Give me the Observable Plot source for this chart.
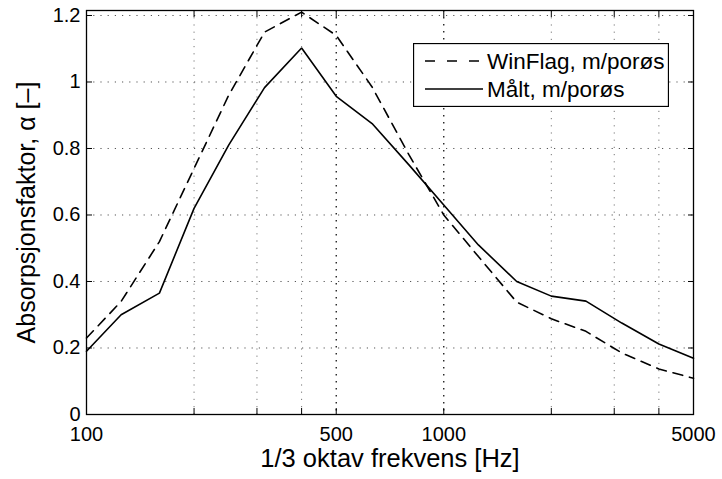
<!DOCTYPE html>
<html>
<head>
<meta charset="utf-8">
<script src="https://cdn.jsdelivr.net/npm/d3@7"></script>
<script src="https://cdn.jsdelivr.net/npm/@observablehq/plot@0.6"></script>
<style>
  html, body { margin: 0; padding: 0; background: #fff; }
  #wrap { position: relative; width: 722px; height: 479px; font-family: "Liberation Sans", Arial, Helvetica, sans-serif; }
  #legend { position: absolute; left: 413px; top: 43px; }
</style>
</head>
<body>
<div id="wrap"><div id="chart"></div><div id="legend"></div></div>
<script>
// ---- data ----
const freqs = [100, 125, 160, 200, 250, 315, 400, 500, 630, 800, 1000, 1250, 1600, 2000, 2500, 3150, 4000, 5000];
const winflag = [0.23, 0.34, 0.52, 0.74, 0.96, 1.15, 1.21, 1.14, 0.985, 0.78, 0.60, 0.475, 0.338, 0.288, 0.25, 0.185, 0.137, 0.109];
const maalt   = [0.19, 0.30, 0.365, 0.62, 0.81, 0.983, 1.102, 0.957, 0.875, 0.75, 0.63, 0.51, 0.40, 0.356, 0.341, 0.275, 0.212, 0.169];
const seriesNames = ["WinFlag, m/porøs", "Målt, m/porøs"];
const xTicks = [100, 200, 300, 400, 500, 1000, 2000, 3000, 4000, 5000];
const xTickLabels = [100, 500, 1000, 5000];
const yTicks = [0, 0.2, 0.4, 0.6, 0.8, 1, 1.2];
const xTitle = "1/3 oktav frekvens [Hz]";
const yTitle = "Absorpsjonsfaktor, α [–]";

const rows = [];
freqs.forEach((f, i) => {
  rows.push({f, v: winflag[i], s: seriesNames[0]});
  rows.push({f, v: maalt[i], s: seriesNames[1]});
});
const dashes = {[seriesNames[0]]: "10,7", [seriesNames[1]]: null};

const font = "Liberation Sans, Arial, Helvetica, sans-serif";
const inner = xTicks.filter(d => d > 100 && d < 5000);
const major = [500, 1000];
const minor = inner.filter(d => !major.includes(d));

const chart = Plot.plot({
  width: 722,
  height: 479,
  marginLeft: 86,
  marginRight: 29,
  marginTop: 10,
  marginBottom: 65,
  style: {fontFamily: font, color: "#000", background: "#fff"},
  x: {type: "log", domain: [100, 5000], axis: null},
  y: {domain: [0, 1.215], axis: null},
  marks: [
    Plot.ruleY(yTicks.filter(d => d > 0), {stroke: "#555", strokeWidth: 1, strokeDasharray: "1.2,6"}),
    Plot.ruleX(minor, {stroke: "#777", strokeWidth: 1, strokeDasharray: "1.2,6"}),
    Plot.ruleX(major, {stroke: "#000", strokeWidth: 1.2, strokeDasharray: "1.5,5.5"}),
    ...seriesNames.map(name => Plot.line(rows.filter(r => r.s === name), {
      x: "f", y: "v", stroke: "#000", strokeWidth: 1.6,
      strokeDasharray: dashes[name], strokeLinejoin: "miter"
    })),
    Plot.frame({stroke: "#000", strokeWidth: 1.3}),
    // inward ticks
    Plot.axisX({ticks: xTicks, anchor: "bottom", tickSize: 6, dy: -6, tickFormat: () => "", strokeWidth: 1, label: null}),
    Plot.axisX({ticks: xTicks, anchor: "top", tickSize: 6, dy: 6, tickFormat: () => "", strokeWidth: 1, label: null}),
    Plot.axisY({ticks: yTicks, anchor: "left", tickSize: 6, dx: 6, tickFormat: () => "", strokeWidth: 1, label: null}),
    Plot.axisY({ticks: yTicks, anchor: "right", tickSize: 6, dx: -6, tickFormat: () => "", strokeWidth: 1, label: null}),
    // labels
    Plot.axisX({ticks: xTickLabels, anchor: "bottom", tickSize: 0, tickPadding: 12, fontSize: 20, tickFormat: d => String(d), label: null}),
    Plot.axisY({ticks: yTicks, anchor: "left", tickSize: 0, tickPadding: 6, fontSize: 20, tickFormat: d => String(d), label: null}),
    Plot.text([xTitle], {frameAnchor: "bottom", lineAnchor: "middle", textAnchor: "middle", dy: 44, fontSize: 25.5, fill: "#000"}),
    Plot.text([yTitle], {frameAnchor: "left", lineAnchor: "middle", textAnchor: "middle", rotate: -90, dx: -60, fontSize: 25, fill: "#000"})
  ]
});
document.getElementById("chart").append(chart);

// ---- legend ----
const lw = 256, lh = 64;
const lsvg = d3.select("#legend").append("svg")
  .attr("width", lw).attr("height", lh)
  .style("font-family", font);
lsvg.append("rect").attr("x", 0.5).attr("y", 0.5).attr("width", lw - 1).attr("height", lh - 1)
  .attr("fill", "#fff").attr("stroke", "#000").attr("stroke-width", 1.3);
seriesNames.forEach((name, i) => {
  const cy = 18 + i * 28;
  lsvg.append("line").attr("x1", 12).attr("x2", 70).attr("y1", cy).attr("y2", cy)
    .attr("stroke", "#000").attr("stroke-width", 1.6)
    .attr("stroke-dasharray", dashes[name] ? "10,12" : null);
  lsvg.append("text").attr("x", 74).attr("y", cy).attr("dy", "0.35em")
    .attr("font-size", 22.5).attr("fill", "#000").text(name);
});
</script>
</body>
</html>
